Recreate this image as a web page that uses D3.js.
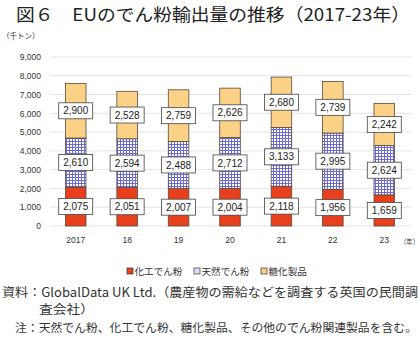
<!DOCTYPE html>
<html><head><meta charset="utf-8">
<script src="https://cdn.jsdelivr.net/npm/d3@7"></script>
<style>
body{margin:0;background:#fff;}
svg{display:block;font-family:"Noto Sans CJK JP","Noto Sans",sans-serif;}
</style></head>
<body><svg id="c" width="420" height="337"></svg>
<script>
const years = ["2017","18","19","20","21","22","23"];
const seriesNames = ["化工でん粉","天然でん粉","糖化製品"];
const modified = [2075,2051,2007,2004,2118,1956,1659];
const natural = [2610,2594,2488,2712,3133,2995,2624];
const saccharified = [2900,2528,2759,2626,2680,2739,2242];
const yTicks = [0,1000,2000,3000,4000,5000,6000,7000,8000,9000];

const svg = d3.select("#c");
const defs = svg.append("defs");
const pat = defs.append("pattern").attr("id","chk").attr("patternUnits","userSpaceOnUse")
  .attr("width",3).attr("height",3);
pat.append("rect").attr("width",3).attr("height",3).attr("fill","#ffffff");
pat.append("rect").attr("x",0).attr("y",0).attr("width",3).attr("height",1).attr("fill","#6a6ad6");
pat.append("rect").attr("x",0).attr("y",0).attr("width",1).attr("height",3).attr("fill","#6a6ad6");

const fills = ["#e8401c","url(#chk)","#fbd087"];
const legendFills = ["#e8401c","#dfe0f8","#fbd087"];

const x = d3.scaleBand().domain(years).range([50,410]).paddingInner(0.6).paddingOuter(0.3);
const y = d3.scaleLinear().domain([0,9000]).range([226,57]);

// title
svg.append("text").attr("x",16).attr("y",21).attr("font-size",17.5).attr("fill","#222")
  .attr("textLength",394).attr("lengthAdjust","spacingAndGlyphs")
  .text("図６　EUのでん粉輸出量の推移（2017-23年）");
svg.append("text").attr("x",2).attr("y",39).attr("font-size",7.5).attr("fill","#333").text("（千トン）");

// grid
svg.append("g").selectAll("line").data(yTicks).join("line")
  .attr("x1",50).attr("x2",411).attr("y1",d=>y(d)).attr("y2",d=>y(d))
  .attr("stroke","#e2e2e2").attr("stroke-width",1);

const yAxis = d3.axisLeft(y).tickValues(yTicks).tickSize(0).tickPadding(0).tickFormat(d3.format(","));
const ga = svg.append("g").attr("transform","translate(41,0)").call(yAxis);
ga.select(".domain").remove();
ga.selectAll("text").attr("font-size",8.5).attr("fill","#333").attr("font-family","Arial, 'Liberation Sans', sans-serif");

const xAxis = d3.axisBottom(x).tickSize(0).tickPadding(0);
const gx = svg.append("g").attr("transform","translate(0,237)").call(xAxis);
gx.select(".domain").remove();
gx.selectAll("text").attr("font-size",8.5).attr("fill","#333").attr("font-family","Arial, 'Liberation Sans', sans-serif");
svg.append("text").attr("x",400).attr("y",244).attr("font-size",7).attr("fill","#333")
  .attr("textLength",19).attr("lengthAdjust","spacingAndGlyphs").text("（年）");

const data = years.map((yr,i)=>({yr, vals:[modified[i],natural[i],saccharified[i]]}));
const stackData = d3.stack().keys([0,1,2]).value((d,k)=>d.vals[k])(data);

const bars = svg.append("g");
stackData.forEach((layer,k)=>{
  bars.append("g").selectAll("rect").data(layer).join("rect")
    .attr("x",d=>x(d.data.yr)).attr("width",x.bandwidth())
    .attr("y",d=>y(d[1])).attr("height",d=>y(d[0])-y(d[1]))
    .attr("fill",fills[k]).attr("stroke","#5a4a3a").attr("stroke-width",0.8);
});
const labels = svg.append("g");
stackData.forEach((layer,k)=>{
  const g = labels.append("g").selectAll("g").data(layer).join("g")
    .attr("transform",d=>`translate(${x(d.data.yr)+x.bandwidth()/2},${(y(d[0])+y(d[1]))/2})`);
  g.append("rect").attr("x",-17).attr("y",-8).attr("width",34).attr("height",16)
    .attr("fill","#fff").attr("stroke","#444").attr("stroke-width",0.8);
  g.append("text").attr("text-anchor","middle").attr("dy","0.36em").attr("font-size",10)
    .attr("fill","#222").attr("font-family","Arial, 'Liberation Sans', sans-serif")
    .text(d=>d3.format(",")(d.data.vals[k]));
});

// legend
const legX = [127,194,261];
const lg = svg.append("g");
seriesNames.forEach((n,i)=>{
  lg.append("rect").attr("x",legX[i]).attr("y",268).attr("width",6).attr("height",6)
    .attr("fill",legendFills[i]).attr("stroke","#333").attr("stroke-width",0.7);
  lg.append("text").attr("x",legX[i]+7.5).attr("y",275).attr("font-size",9.6).attr("fill","#333").text(n);
});

// notes
svg.append("text").attr("x",2).attr("y",297).attr("font-size",12.5).attr("fill","#333")
  .attr("textLength",416).attr("lengthAdjust","spacingAndGlyphs")
  .text("資料：GlobalData UK Ltd.（農産物の需給などを調査する英国の民間調");
svg.append("text").attr("x",39).attr("y",314).attr("font-size",12).attr("fill","#333")
  .attr("textLength",55).attr("lengthAdjust","spacingAndGlyphs").text("査会社）");
svg.append("text").attr("x",15).attr("y",332).attr("font-size",11.7).attr("fill","#333")
  .attr("textLength",402).attr("lengthAdjust","spacingAndGlyphs")
  .text("注：天然でん粉、化工でん粉、糖化製品、その他のでん粉関連製品を含む。");
</script></body></html>
